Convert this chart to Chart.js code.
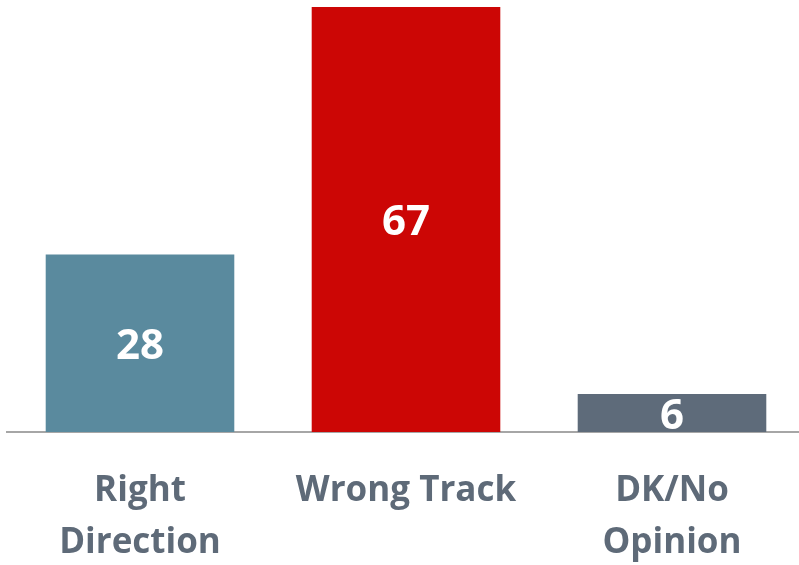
<!DOCTYPE html>
<html>
<head>
<meta charset="utf-8">
<script src="https://cdn.jsdelivr.net/npm/chart.js@4"></script>
<style>
    html, body { margin: 0; padding: 0; background: #fff; overflow: hidden; }
    #wrap { width: 806px; height: 565px; position: relative; }
</style>
</head>
<body>
<div id="wrap"><canvas id="chart"></canvas></div>
<script>
let categories = [["Right", "Direction"], "Wrong Track", ["DK/No", "Opinion"]];
let values = [28, 67, 6];
let barColors = ["#5A8A9E", "#CC0605", "#5E6B7A"];

let labelFont = "'Open Sans', 'DejaVu Sans', sans-serif";

// draws the value in the middle of each bar
let valueLabels = {
    id: "valueLabels",
    afterDatasetsDraw(chart) {
        let ctx = chart.ctx;
        let meta = chart.getDatasetMeta(0);
        ctx.save();
        ctx.fillStyle = "#ffffff";
        ctx.font = "bold 42px " + labelFont;
        ctx.textAlign = "center";
        ctx.textBaseline = "middle";
        meta.data.forEach((bar, i) => {
            ctx.fillText(String(values[i]), bar.x, (bar.y + bar.base) / 2 + 4);
        });
        ctx.restore();
    }
};

let chart = new Chart(document.getElementById("chart"), {
    type: "bar",
    data: {
        labels: categories,
        datasets: [{
            data: values,
            backgroundColor: barColors,
            borderWidth: 0,
            categoryPercentage: 1,
            barPercentage: 0.709
        }]
    },
    options: {
        responsive: true,
        maintainAspectRatio: false,
        animation: false,
        layout: { padding: { top: 7, left: 7, right: 1, bottom: 0 } },
        plugins: {
            legend: { display: false },
            tooltip: { enabled: false }
        },
        scales: {
            y: {
                display: false,
                min: 0,
                max: 67
            },
            x: {
                grid: { display: false, drawTicks: false },
                border: { display: true, color: "#A6A6A6", width: 2 },
                ticks: {
                    color: "#5E6A78",
                    padding: 33,
                    maxRotation: 0,
                    font: { family: labelFont, size: 35, weight: "bold", lineHeight: 1.48 }
                },
                afterFit(scale) {
                    scale.height = 133;
                }
            }
        }
    },
    plugins: [valueLabels]
});
</script>
</body>
</html>
